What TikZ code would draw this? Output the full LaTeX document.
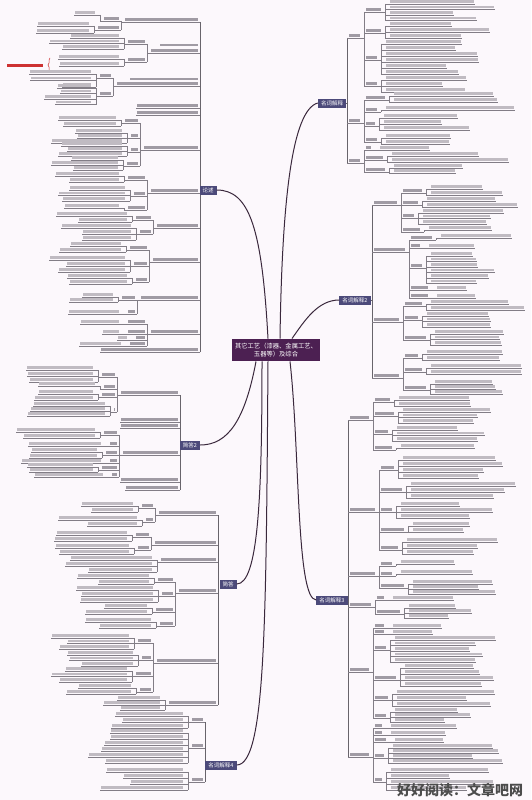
\documentclass[tikz,border=0pt]{standalone}
\usepackage{fontspec}
\newfontfamily\cjk{Noto Sans CJK SC}
\usetikzlibrary{decorations.pathreplacing}
\definecolor{bgc}{RGB}{252,248,252}
\definecolor{mainc}{RGB}{76,74,122}
\definecolor{centc}{RGB}{76,32,82}
\definecolor{linec}{RGB}{58,40,60}
\definecolor{tlc}{RGB}{130,125,134}
\definecolor{tbc}{RGB}{192,187,194}
\definecolor{lbc}{RGB}{160,155,164}
\definecolor{redc}{RGB}{205,50,50}
\tikzset{
  tl/.style={draw=tlc,line width=0.4pt},
  sp/.style={draw=tlc!80!black,line width=0.55pt},
  tbar/.style={fill=tbc},
  lbar/.style={fill=lbc},
  mc/.style={draw=linec,line width=1pt},
  mainn/.style={fill=mainc,text=white,font=\cjk\fontsize{5.5}{6.5}\selectfont,inner xsep=3pt,inner ysep=1.5pt,minimum height=9pt},
  cnode/.style={fill=centc,text=white,font=\cjk\fontsize{6.3}{8.5}\selectfont,inner xsep=3pt,inner ysep=4pt,align=center},
  wm/.style={text=black!70,font=\cjk\bfseries\fontsize{14}{15}\selectfont}
}
\newcommand\LabR[3]{\draw[tl] (#1,#2) -- ++(#3,0); \fill[lbar] (#1+2,#2-1.2) rectangle ++(#3-3,-2.4);}
\newcommand\LabL[3]{\draw[tl] (#1,#2) -- ++(-#3,0); \fill[lbar] (#1-2,#2-1.2) rectangle ++(-#3+3,-2.4);}
\newcommand\BrR[5]{\LabR{#1}{#2}{#3}\draw[tl] (#1+#3,#2) -- (#1+#3+3,#2); \draw[tl] (#1+#3+3,#4) -- (#1+#3+3,#5);}
\newcommand\BrL[5]{\LabL{#1}{#2}{#3}\draw[tl] (#1-#3,#2) -- (#1-#3-3,#2); \draw[tl] (#1-#3-3,#4) -- (#1-#3-3,#5);}
\newcommand\TR[8]{%
  \LabR{#1}{#2}{#3}%
  \pgfmathsetmacro\mbx{#1+#3+3}%
  \pgfmathsetmacro\mylast{#4+(#5-1)*#6}%
  \pgfmathsetmacro\mytop{min(#4,#2)}%
  \pgfmathsetmacro\mybot{max(\mylast,#2)}%
  \draw[tl] (#1+#3,#2) -- (\mbx,#2);
  \draw[tl] (\mbx,\mytop) -- (\mbx,\mybot);
  \foreach \i in {1,...,#5}{%
    \pgfmathsetmacro\myy{#4+(\i-1)*#6}%
    \pgfmathsetmacro\mylen{min(#7+rnd*(#8-#7),527-\mbx-4)}%
    \draw[tl] (\mbx,\myy) -- ++(\mylen+4,0);
    \fill[tbar] (\mbx+5,\myy-1.2) rectangle ++(\mylen-2,-2.4);
  }%
}
\newcommand\TL[8]{%
  \LabL{#1}{#2}{#3}%
  \pgfmathsetmacro\mbx{#1-#3-3}%
  \pgfmathsetmacro\mylast{#4+(#5-1)*#6}%
  \pgfmathsetmacro\mytop{min(#4,#2)}%
  \pgfmathsetmacro\mybot{max(\mylast,#2)}%
  \draw[tl] (#1-#3,#2) -- (\mbx,#2);
  \draw[tl] (\mbx,\mytop) -- (\mbx,\mybot);
  \foreach \i in {1,...,#5}{%
    \pgfmathsetmacro\myy{#4+(\i-1)*#6}%
    \pgfmathsetmacro\mylen{min(#7+rnd*(#8-#7),\mbx-8)}%
    \draw[tl] (\mbx,\myy) -- ++(-\mylen-4,0);
    \fill[tbar] (\mbx-5,\myy-1.2) rectangle ++(-\mylen+2,-2.4);
  }%
}
\begin{document}
\begin{tikzpicture}[x=1pt,y=-1pt]
\pgfmathsetseed{11}
\fill[bgc] (0,0) rectangle (531,800);
\useasboundingbox (0,0) rectangle (531,800);

% ---------- Block A (名词解释) ----------
\draw[sp] (347,38) -- (347,163);
\BrR{347}{38}{14}{12}{86}
 \TR{364}{12}{18}{4}{4}{5.5}{40}{110}
 \TR{364}{33}{18}{26}{3}{6}{60}{130}
 \TR{364}{60}{14}{44}{6}{6}{50}{120}
 \TR{364}{86}{14}{80}{3}{6}{40}{100}
\BrR{347}{123}{14}{100}{142}
 \TR{364}{100}{22}{96}{2}{6}{60}{110}
 \TR{364}{112}{14}{110}{1}{6}{100}{140}
 \TR{364}{126}{12}{118}{3}{6}{50}{100}
 \TR{364}{142}{14}{138}{2}{6}{40}{80}
\BrR{347}{163}{14}{150}{172}
 \TR{364}{150}{8}{150}{1}{6}{40}{60}
 \TR{364}{160}{20}{156}{2}{6}{80}{120}
 \TR{364}{172}{22}{168}{2}{5}{60}{100}

% ---------- Block B (名词解释2) ----------
\draw[sp] (372,205) -- (372,378);
\BrR{372}{205}{26}{193}{232}
 \TR{401}{193}{22}{189}{2}{6}{50}{90}
 \TR{401}{205}{18}{201}{2}{6}{60}{100}
 \TR{401}{218}{14}{213}{3}{5.5}{60}{100}
 \TR{401}{232}{20}{230}{1}{6}{60}{90}
\BrR{372}{252}{34}{240}{298}
 \TR{409}{240}{24}{238}{1}{6}{60}{80}
 \TR{409}{248}{12}{248}{1}{6}{40}{60}
 \TR{409}{268}{14}{256}{6}{5.5}{40}{80}
 \TR{409}{290}{20}{290}{1}{6}{30}{60}
 \TR{409}{298}{20}{298}{1}{6}{30}{60}
\BrR{372}{322}{28}{306}{340}
 \TR{403}{306}{20}{304}{2}{6}{60}{100}
 \TR{403}{320}{16}{316}{3}{5.5}{60}{100}
 \TR{403}{340}{24}{334}{3}{5.5}{50}{80}
\BrR{372}{378}{28}{358}{390}
 \TR{403}{358}{16}{354}{2}{6}{50}{90}
 \TR{403}{372}{20}{368}{2}{6}{60}{100}
 \TR{403}{390}{24}{384}{3}{5}{50}{90}

% ---------- Block C (名词解释3) ----------
\draw[sp] (348,420) -- (348,757);
\BrR{348}{420}{22}{402}{450}
 \TR{373}{402}{18}{400}{2}{6}{60}{110}
 \TR{373}{416}{22}{412}{3}{5.5}{60}{110}
 \TR{373}{434}{16}{430}{3}{5.5}{50}{100}
 \TR{373}{450}{20}{448}{1}{6}{60}{90}
\BrR{348}{512}{28}{470}{550}
 \TR{379}{470}{16}{460}{4}{6}{70}{120}
 \TR{379}{492}{24}{486}{3}{6}{60}{110}
 \TR{379}{512}{14}{506}{3}{6}{60}{100}
 \TR{379}{532}{26}{526}{2}{6}{50}{90}
 \TR{379}{550}{20}{542}{3}{6}{60}{100}
\BrR{348}{576}{28}{566}{588}
 \TR{379}{566}{14}{564}{1}{6}{50}{80}
 \TR{379}{576}{14}{574}{1}{6}{60}{80}
 \TR{379}{588}{26}{584}{3}{5}{50}{90}
\BrR{348}{607}{24}{600}{614}
 \TR{375}{600}{10}{600}{1}{6}{60}{100}
 \TR{375}{614}{26}{608}{3}{5}{40}{80}
\BrR{348}{672}{22}{628}{718}
 \TR{373}{628}{12}{628}{1}{6}{40}{60}
 \TR{373}{634}{12}{634}{1}{6}{30}{50}
 \TR{373}{650}{14}{640}{5}{5.5}{70}{110}
 \TR{373}{680}{24}{668}{4}{6}{60}{110}
 \TR{373}{700}{16}{694}{3}{6}{60}{100}
 \TR{373}{718}{14}{712}{3}{5}{50}{90}
\BrR{348}{757}{22}{728}{782}
 \TR{373}{728}{10}{728}{1}{6}{60}{80}
 \TR{373}{735}{10}{735}{1}{6}{50}{60}
 \TR{373}{742}{14}{742}{1}{6}{40}{60}
 \TR{373}{758}{12}{748}{4}{5}{80}{120}
 \TR{373}{782}{10}{772}{4}{6}{60}{110}

% ---------- Block D (论述) ----------
\draw[sp] (200,22) -- (200,352);
\BrL{200}{22}{76}{21}{30}
 \TL{121}{21}{18}{15}{1}{6}{20}{30}
 \TL{121}{30}{24}{26}{2}{7}{40}{55}
\BrL{200}{53}{50}{44}{62}
 \fill[lbar] (198,46) rectangle (160,43.6);
 \TL{147}{44}{20}{38}{3}{5.5}{50}{80}
 \TL{147}{62}{20}{59}{2}{7}{40}{62}
 \fill[redc] (7,64.5) rectangle (43,67);
 \draw[redc,line width=0.5pt,decorate,decoration={brace,amplitude=2pt}] (50,72) -- (50,58);
\BrL{200}{86}{84}{78}{96}
 \fill[lbar] (198,80) rectangle (130,77.6);
 \TL{113}{78}{14}{74}{3}{6.5}{30}{65}
 \TL{113}{96}{14}{88}{4}{5.5}{30}{60}
\LabL{200}{108}{64}
\LabL{200}{115}{64}
\BrL{200}{150}{57}{123}{166}
 \TL{140}{123}{16}{120}{2}{6}{50}{60}
 \TL{140}{138}{10}{133}{3}{5}{40}{80}
 \TL{140}{152}{10}{146}{3}{5}{50}{80}
 \TL{140}{166}{14}{160}{3}{5}{40}{80}
\BrL{200}{193}{50}{180}{210}
 \TL{147}{180}{20}{176}{2}{6}{40}{70}
 \TL{147}{196}{14}{190}{3}{5.5}{50}{80}
 \TL{147}{210}{20}{208}{1}{6}{40}{60}
\BrL{200}{228}{44}{220}{234}
 \TL{153}{220}{18}{216}{2}{6}{40}{80}
 \TL{153}{234}{14}{228}{3}{6}{50}{80}
\BrL{200}{262}{48}{250}{282}
 \TL{149}{250}{20}{246}{2}{6}{40}{70}
 \TL{149}{266}{16}{260}{3}{6}{40}{90}
 \TL{149}{282}{14}{278}{2}{6}{40}{70}
\BrL{200}{300}{60}{300}{314}
 \TL{137}{300}{16}{297}{2}{5}{30}{50}
 \TL{137}{314}{10}{314}{1}{6}{50}{60}
\BrL{200}{334}{50}{324}{346}
 \TL{147}{324}{20}{324}{1}{6}{40}{40}
 \TL{147}{334}{20}{334}{1}{6}{10}{20}
 \TL{147}{340}{12}{340}{1}{6}{10}{12}
 \TL{147}{346}{18}{346}{1}{6}{40}{60}
\LabL{200}{352}{100}

% ---------- Block E (简答2) ----------
\draw[sp] (180,395) -- (180,490);
\BrL{180}{395}{60}{377}{412}
 \TL{117}{377}{16}{370}{3}{6}{50}{75}
 \TL{117}{389}{14}{386}{1}{6}{50}{60}
 \TL{117}{397}{16}{394}{2}{6}{40}{60}
 \TL{117}{412}{4}{406}{3}{5}{70}{80}
\LabL{180}{422}{60}
\LabL{180}{428}{60}
\BrL{180}{455}{58}{435}{477}
 \TL{119}{435}{16}{432}{2}{6}{60}{90}
 \TL{119}{446}{10}{446}{1}{6}{70}{90}
 \TL{119}{455}{14}{452}{2}{6}{60}{90}
 \TL{119}{463}{10}{463}{1}{6}{80}{95}
 \TL{119}{470}{18}{467}{2}{5}{60}{80}
 \TL{119}{477}{8}{477}{1}{6}{60}{80}
\LabL{180}{482}{60}
\LabL{180}{490}{55}

% ---------- Block F (简答) ----------
\draw[sp] (218,515) -- (218,705);
\BrL{218}{515}{60}{508}{522}
 \TL{155}{508}{14}{506}{2}{6}{40}{70}
 \TL{155}{522}{10}{520}{2}{6}{50}{80}
\BrL{218}{545}{64}{537}{550}
 \TL{151}{537}{16}{535}{2}{6}{50}{80}
 \TL{151}{550}{14}{548}{2}{6}{50}{80}
\TL{218}{562}{58}{560}{3}{6}{50}{90}
\BrL{218}{593}{40}{582}{626}
 \TL{175}{582}{18}{578}{2}{6}{40}{80}
 \TL{175}{596}{14}{590}{3}{6}{50}{90}
 \TL{175}{612}{20}{608}{2}{6}{40}{80}
 \TL{175}{626}{16}{622}{2}{6}{40}{70}
\BrL{218}{663}{62}{643}{692}
 \TL{153}{643}{16}{638}{3}{5.5}{50}{80}
 \TL{153}{660}{12}{655}{3}{5.5}{50}{80}
 \TL{153}{676}{18}{671}{3}{5.5}{40}{80}
 \TL{153}{692}{14}{688}{2}{6}{50}{70}
\TL{218}{705}{50}{700}{3}{5}{40}{70}

% ---------- Block G (名词解释4) ----------
\draw[sp] (205,722) -- (205,782);
\TL{205}{722}{14}{716}{3}{6}{50}{90}
\TL{205}{748}{14}{733}{6}{6}{50}{100}
\TL{205}{782}{14}{772}{4}{6}{50}{100}

% ---------- main nodes ----------
\node[cnode] (c) at (276,350) {其它工艺（漆器、金属工艺、\\玉器等）及综合};
\node[mainn] (n1) at (332,103) {名词解释};
\node[mainn] (n2) at (355,300) {名词解释2};
\node[mainn] (n3) at (332,600) {名词解释3};
\node[mainn] (n4) at (221,765) {名词解释4};
\node[mainn] (lun) at (208,190) {论述};
\node[mainn] (jd2) at (190,445) {简答2};
\node[mainn] (jd) at (228,584) {简答};

\draw[sp] (n1.east) -- (347,103);
\draw[sp] (n2.east) -- (372,300);
\draw[sp] (n3.east) -- (348,600);

% ---------- main connectors ----------
\draw[mc] ([xshift=4pt]c.north) .. controls (282,200) and (292,110) .. (n1.west);
\draw[mc] ([xshift=-8pt]c.north) .. controls (262,230) and (250,190) .. (lun.east);
\draw[mc] ([xshift=16pt]c.north) .. controls (305,320) and (318,300) .. (n2.west);
\draw[mc] ([xshift=-20pt]c.south) .. controls (245,420) and (228,445) .. (jd2.east);
\draw[mc] ([xshift=-14pt]c.south) .. controls (262,500) and (258,584) .. (jd.east);
\draw[mc] ([xshift=-8pt]c.south) .. controls (266,620) and (266,765) .. (n4.east);
\draw[mc] ([xshift=14pt]c.south) .. controls (300,450) and (296,600) .. (n3.west);

\node[wm] (wmk) at (460,790) {好好阅读：文章吧网};
\end{tikzpicture}
\end{document}
